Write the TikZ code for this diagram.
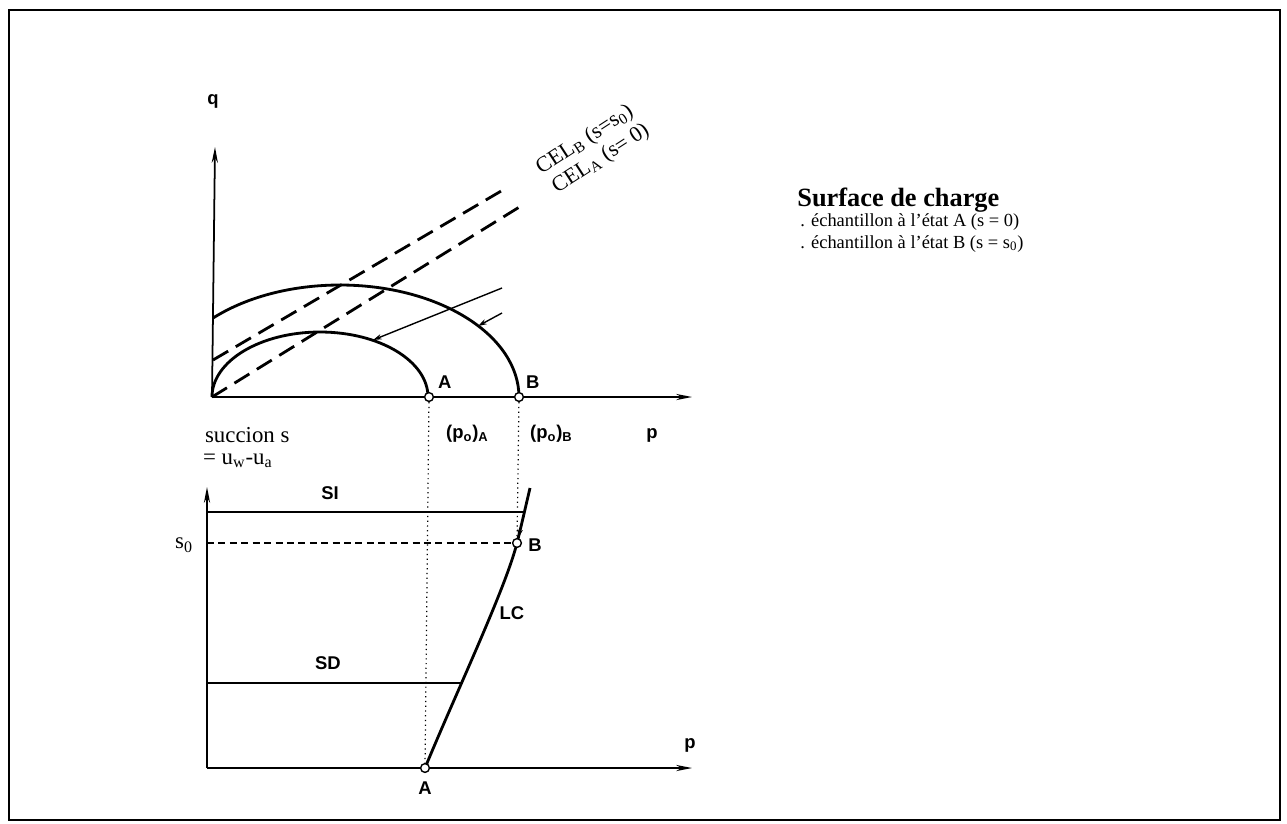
\documentclass[tikz,border=0pt]{standalone}
\usepackage{fontspec}
\setmainfont{Liberation Serif}
\setsansfont{Liberation Sans}
\usetikzlibrary{arrows.meta}

\begin{document}
\begin{tikzpicture}[x=0.02cm,y=-0.02cm,
  ax/.style={line width=1pt,-{Stealth[length=9pt,width=3.5pt]}},
  surf/.style={line width=1.6pt},
  cel/.style={line width=1.6pt,dash pattern=on 10pt off 5pt},
  spath/.style={line width=0.8pt,{Stealth[length=5pt,width=3pt]}-},
  guide/.style={line width=0.7pt,dotted},
  pt/.style={circle,draw,fill=white,line width=0.8pt,inner sep=0pt,minimum size=5pt},
  lab/.style={font=\sffamily\bfseries\fontsize{10.5}{12}\selectfont,inner sep=1pt},
  txt/.style={font=\fontsize{13}{15}\selectfont,inner sep=1pt},
  celtxt/.style={font=\fontsize{12.5}{14}\selectfont,inner sep=0pt,anchor=base west,rotate=33},
  leg/.style={font=\fontsize{10.5}{12}\selectfont,inner sep=0pt,anchor=base west},
]
\useasboundingbox (0,0) rectangle (1287,823);
\draw[line width=1.2pt] (9,10) rectangle (1280,820);

% ---------------- top: q-p plane ----------------
\coordinate (O1) at (212,397);
\coordinate (qtip) at (215,147);
\coordinate (ptip1) at (692,397);
\draw[ax] (O1) -- (qtip);
\draw[ax] (O1) -- (ptip1);
\node[lab] (q) at (213,101) {q};
\node[lab] (p1) at (652,435) {p};

% loading surfaces
\draw[surf] (213.4,317.8) arc[start angle=-135,end angle=0,x radius=179,y radius=112];
\draw[surf] (O1) arc[start angle=180,end angle=360,x radius=108,y radius=65];

% critical state lines
\coordinate (celB0) at (213,360);
\coordinate (celB1) at (508,187);
\coordinate (celA1) at (521,206);
\draw[cel] (celB0) -- (celB1);
\draw[cel] (O1) -- (celA1);
\node[celtxt] (celB) at (541,175) {CEL\textsubscript{B} (s=s\textsubscript{0})};
\node[celtxt] (celA) at (557,194) {CEL\textsubscript{A} (s= 0)};

% stress paths
\draw[spath] (373,340) -- (502,288);
\draw[spath] (478,326) -- (502,313);

\node[pt] (pA) at (429,397) {};
\node[pt] (pB) at (519,397) {};
\node[lab,anchor=south west] (lA) at (436,391) {A};
\node[lab,anchor=south west] (lB) at (524,391) {B};
\node[lab,anchor=west] (p0A) at (444,434) {(p\textsubscript{o})\textsubscript{A}};
\node[lab,anchor=west] (p0B) at (528,434) {(p\textsubscript{o})\textsubscript{B}};

% ---------------- bottom: s-p plane ----------------
\coordinate (O2) at (207,768);
\coordinate (stip) at (207,487);
\coordinate (ptip2) at (692,768);
\draw[ax] (O2) -- (stip);
\draw[ax] (O2) -- (ptip2);
\node[txt,anchor=west] (succ) at (203,435) {succion s};
\node[txt,anchor=west] (uwua) at (201,461) {= u\textsubscript{w}-u\textsubscript{a}};
\node[lab] (p2) at (690,745) {p};

% LC curve
\coordinate (LCtop) at (530,488);
\draw[surf] (425,768) .. controls (455,695) and (505,590) .. (517,543)
  .. controls (521,527) and (526,505) .. (LCtop);
\node[pt] (Ab) at (425,768) {};
\node[pt] (Bb) at (517,543) {};

% SI, SD and s0
\coordinate (SI0) at (207,512);
\coordinate (SI1) at (524.5,512);
\coordinate (SD0) at (207,683);
\coordinate (SD1) at (461,683);
\draw[surf] (SI0) -- (SI1);
\draw[surf] (SD0) -- (SD1);
\draw[line width=0.9pt,dash pattern=on 4pt off 2.5pt] (207,543) -- (Bb);
\draw[line width=0.8pt,-{Stealth[length=5pt,width=3pt]}] (SI1) -- (Bb);

% projections
\draw[guide] (pA) -- (Ab);
\draw[guide] (pB) -- (Bb);

\node[lab] (lSI) at (330,493) {SI};
\node[lab] (lSD) at (328,663) {SD};
\node[lab] (lLC) at (512,613) {LC};
\node[txt] (s0) at (184,545) {s\textsubscript{0}};
\node[lab] (lBb) at (535,545) {B};
\node[lab] (lAb) at (425,788) {A};

% ---------------- legend ----------------
\node[leg,font=\bfseries\fontsize{15}{16}\selectfont] (leg0) at (797,206) {Surface de charge};
\node[leg] (leg1) at (800,226) {. échantillon à l'état A (s = 0)};
\node[leg] (leg2) at (800,248) {. échantillon à l'état B (s = s\textsubscript{0})};
\end{tikzpicture}
\end{document}
